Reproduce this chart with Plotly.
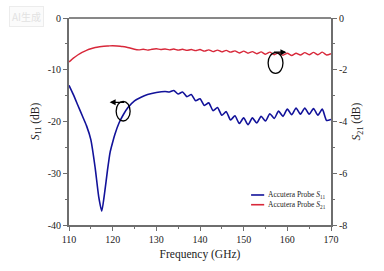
import plotly.graph_objects as go

# ---- data ----
s11_freq = [110, 111, 112, 113, 114, 115, 116, 116.8, 117.5, 118.2, 118.8, 119.4, 120, 120.5,
            121.5, 122.5, 123.5, 125, 126.5, 128, 130, 132, 133,
            134, 135, 136, 137, 138, 139, 140, 141, 142, 143, 144, 145, 146, 147, 148, 149,
            150, 151, 152, 153, 154, 155, 156, 157, 158, 159, 160, 161, 162, 163, 164, 165,
            166, 167, 168, 169, 170]
s11_db = [-13.0, -14.8, -16.8, -18.8, -20.8, -23.5, -29.0, -34.5, -37.3, -33.5, -29.5, -26.0, -24.0, -22.5,
          -20.2, -18.6, -17.3, -16.0, -15.3, -14.8, -14.4, -14.2, -14.3,
          -14.0, -14.7, -14.3, -15.2, -14.8, -16.0, -15.6, -16.9, -16.4, -17.9, -17.3, -18.8, -18.1, -19.7, -18.9, -20.4,
          -19.3, -20.6, -19.3, -20.3, -19.0, -19.9, -18.5, -19.4, -18.0, -19.0, -17.6, -18.7, -17.4, -18.6, -17.4, -18.6,
          -17.5, -18.8, -17.6, -19.8, -19.6]

s21_freq = [110, 111, 112, 113, 114, 115, 116, 117, 118, 119, 120, 121, 122, 123, 124, 125, 126, 127, 128,
            129, 130, 131, 132, 133, 134, 135, 136, 137, 138, 139, 140, 141, 142, 143, 144, 145, 146, 147, 148,
            149, 150, 151, 152, 153, 154, 155, 156, 157, 158, 159, 160, 161, 162, 163, 164, 165, 166, 167, 168,
            169, 170]
s21_db = [-1.70, -1.55, -1.43, -1.33, -1.25, -1.19, -1.14, -1.11, -1.09, -1.08, -1.07, -1.08, -1.10, -1.12, -1.16,
          -1.21, -1.23, -1.21, -1.24,
          -1.21, -1.19, -1.22, -1.20, -1.23, -1.20, -1.24, -1.21, -1.25, -1.22, -1.26, -1.22, -1.28, -1.23, -1.30,
          -1.24, -1.31, -1.25, -1.32, -1.27, -1.35, -1.28, -1.36, -1.30, -1.38, -1.31, -1.40, -1.32, -1.42, -1.34,
          -1.44, -1.36, -1.45, -1.36, -1.43, -1.34, -1.42, -1.33, -1.42, -1.32, -1.43, -1.38]

x_ticks = [110, 120, 130, 140, 150, 160, 170]
y1_ticks = [0, -10, -20, -30, -40]
y1_labels = ["0", "-10", "-20", "-30", "-40"]
y2_ticks = [0, -2, -4, -6, -8]
y2_labels = ["0", "-2", "-4", "-6", "-8"]
series_names = ["Accutera Probe <i>S</i><sub>11</sub>", "Accutera Probe <i>S</i><sub>21</sub>"]

BLUE = "#12129a"
RED = "#d8283a"
AX = "#6e6e6e"
FONT = "Liberation Serif"

fig = go.Figure()
fig.add_trace(go.Scatter(x=s11_freq, y=s11_db, mode="lines", line=dict(color=BLUE, width=1.6, shape="spline", smoothing=0.6),
                         name=series_names[0], showlegend=False))
fig.add_trace(go.Scatter(x=s21_freq, y=s21_db, mode="lines", line=dict(color=RED, width=1.4, shape="spline", smoothing=0.6),
                         name=series_names[1], yaxis="y2", showlegend=False))

axis_common = dict(showgrid=False, zeroline=False, showline=True, linecolor=AX, linewidth=2,
                   ticks="outside", tickcolor=AX, tickwidth=1.2, ticklen=4,
                   tickfont=dict(family=FONT, size=10, color="#222"))

fig.update_layout(
    width=384, height=271,
    margin=dict(l=69, r=53, t=17, b=43),
    paper_bgcolor="white", plot_bgcolor="white",
    font=dict(family=FONT, color="#222"),
    xaxis=dict(range=[110, 170], tickvals=x_ticks, ticktext=[str(v) for v in x_ticks],
               minor=dict(dtick=5, tick0=110, ticks="outside", ticklen=2, tickcolor=AX),
               title=dict(text="Frequency (GHz)", font=dict(family=FONT, size=11.5), standoff=6),
               **axis_common),
    yaxis=dict(range=[-40, 0], tickvals=y1_ticks, ticktext=y1_labels,
               minor=dict(dtick=5, tick0=0, ticks="outside", ticklen=2, tickcolor=AX),
               title=dict(text="<i>S</i><sub>11</sub> (dB)", font=dict(family=FONT, size=11.5), standoff=6),
               **axis_common),
    yaxis2=dict(range=[-8, 0], tickvals=y2_ticks, ticktext=y2_labels, overlaying="y", side="right",
                minor=dict(dtick=1, tick0=0, ticks="outside", ticklen=2, tickcolor=AX),
                title=dict(text="<i>S</i><sub>21</sub> (dB)", font=dict(family=FONT, size=11.5), standoff=6),
                **axis_common),
    showlegend=False,
)

# top border
fig.add_shape(type="line", xref="paper", yref="paper", x0=0, x1=1, y0=1, y1=1,
              line=dict(color="#111", width=1))

# manual legend
leg_y = [0.145, 0.098]
for i, (nm, col) in enumerate(zip(series_names, [BLUE, RED])):
    fig.add_shape(type="line", xref="paper", yref="paper", x0=0.695, x1=0.745, y0=leg_y[i], y1=leg_y[i],
                  line=dict(color=col, width=1.6))
    fig.add_annotation(xref="paper", yref="paper", x=0.75, y=leg_y[i], text=nm, showarrow=False,
                       xanchor="left", yanchor="middle", font=dict(family=FONT, size=7.5, color="#222"))

# circles with arrows
fig.add_shape(type="circle", xref="x", yref="y", x0=120.8, x1=124.0, y0=-19.9, y1=-16.1,
              line=dict(color="black", width=1.3))
fig.add_annotation(x=119.3, y=-16.3, ax=16, ay=0, xref="x", yref="y", text="", showarrow=True,
                   arrowhead=2, arrowsize=1, arrowwidth=1.2, arrowcolor="black")
fig.add_shape(type="circle", xref="x", yref="y", x0=155.6, x1=159.0, y0=-10.7, y1=-6.7,
              line=dict(color="black", width=1.3))
fig.add_annotation(x=159.8, y=-6.6, ax=-14, ay=0, xref="x", yref="y", text="", showarrow=True,
                   arrowhead=2, arrowsize=1, arrowwidth=1.2, arrowcolor="black")

# faint watermark
fig.add_annotation(xref="paper", yref="paper", x=-0.164, y=1.007, xanchor="center", yanchor="middle",
                   text="AI生成", showarrow=False, font=dict(family="Noto Sans CJK SC", size=10, color="#e2e2e2"),
                   bgcolor="#fbfbfb", bordercolor="#ececec", borderwidth=1, borderpad=2)

fig.write_html("out.html")
